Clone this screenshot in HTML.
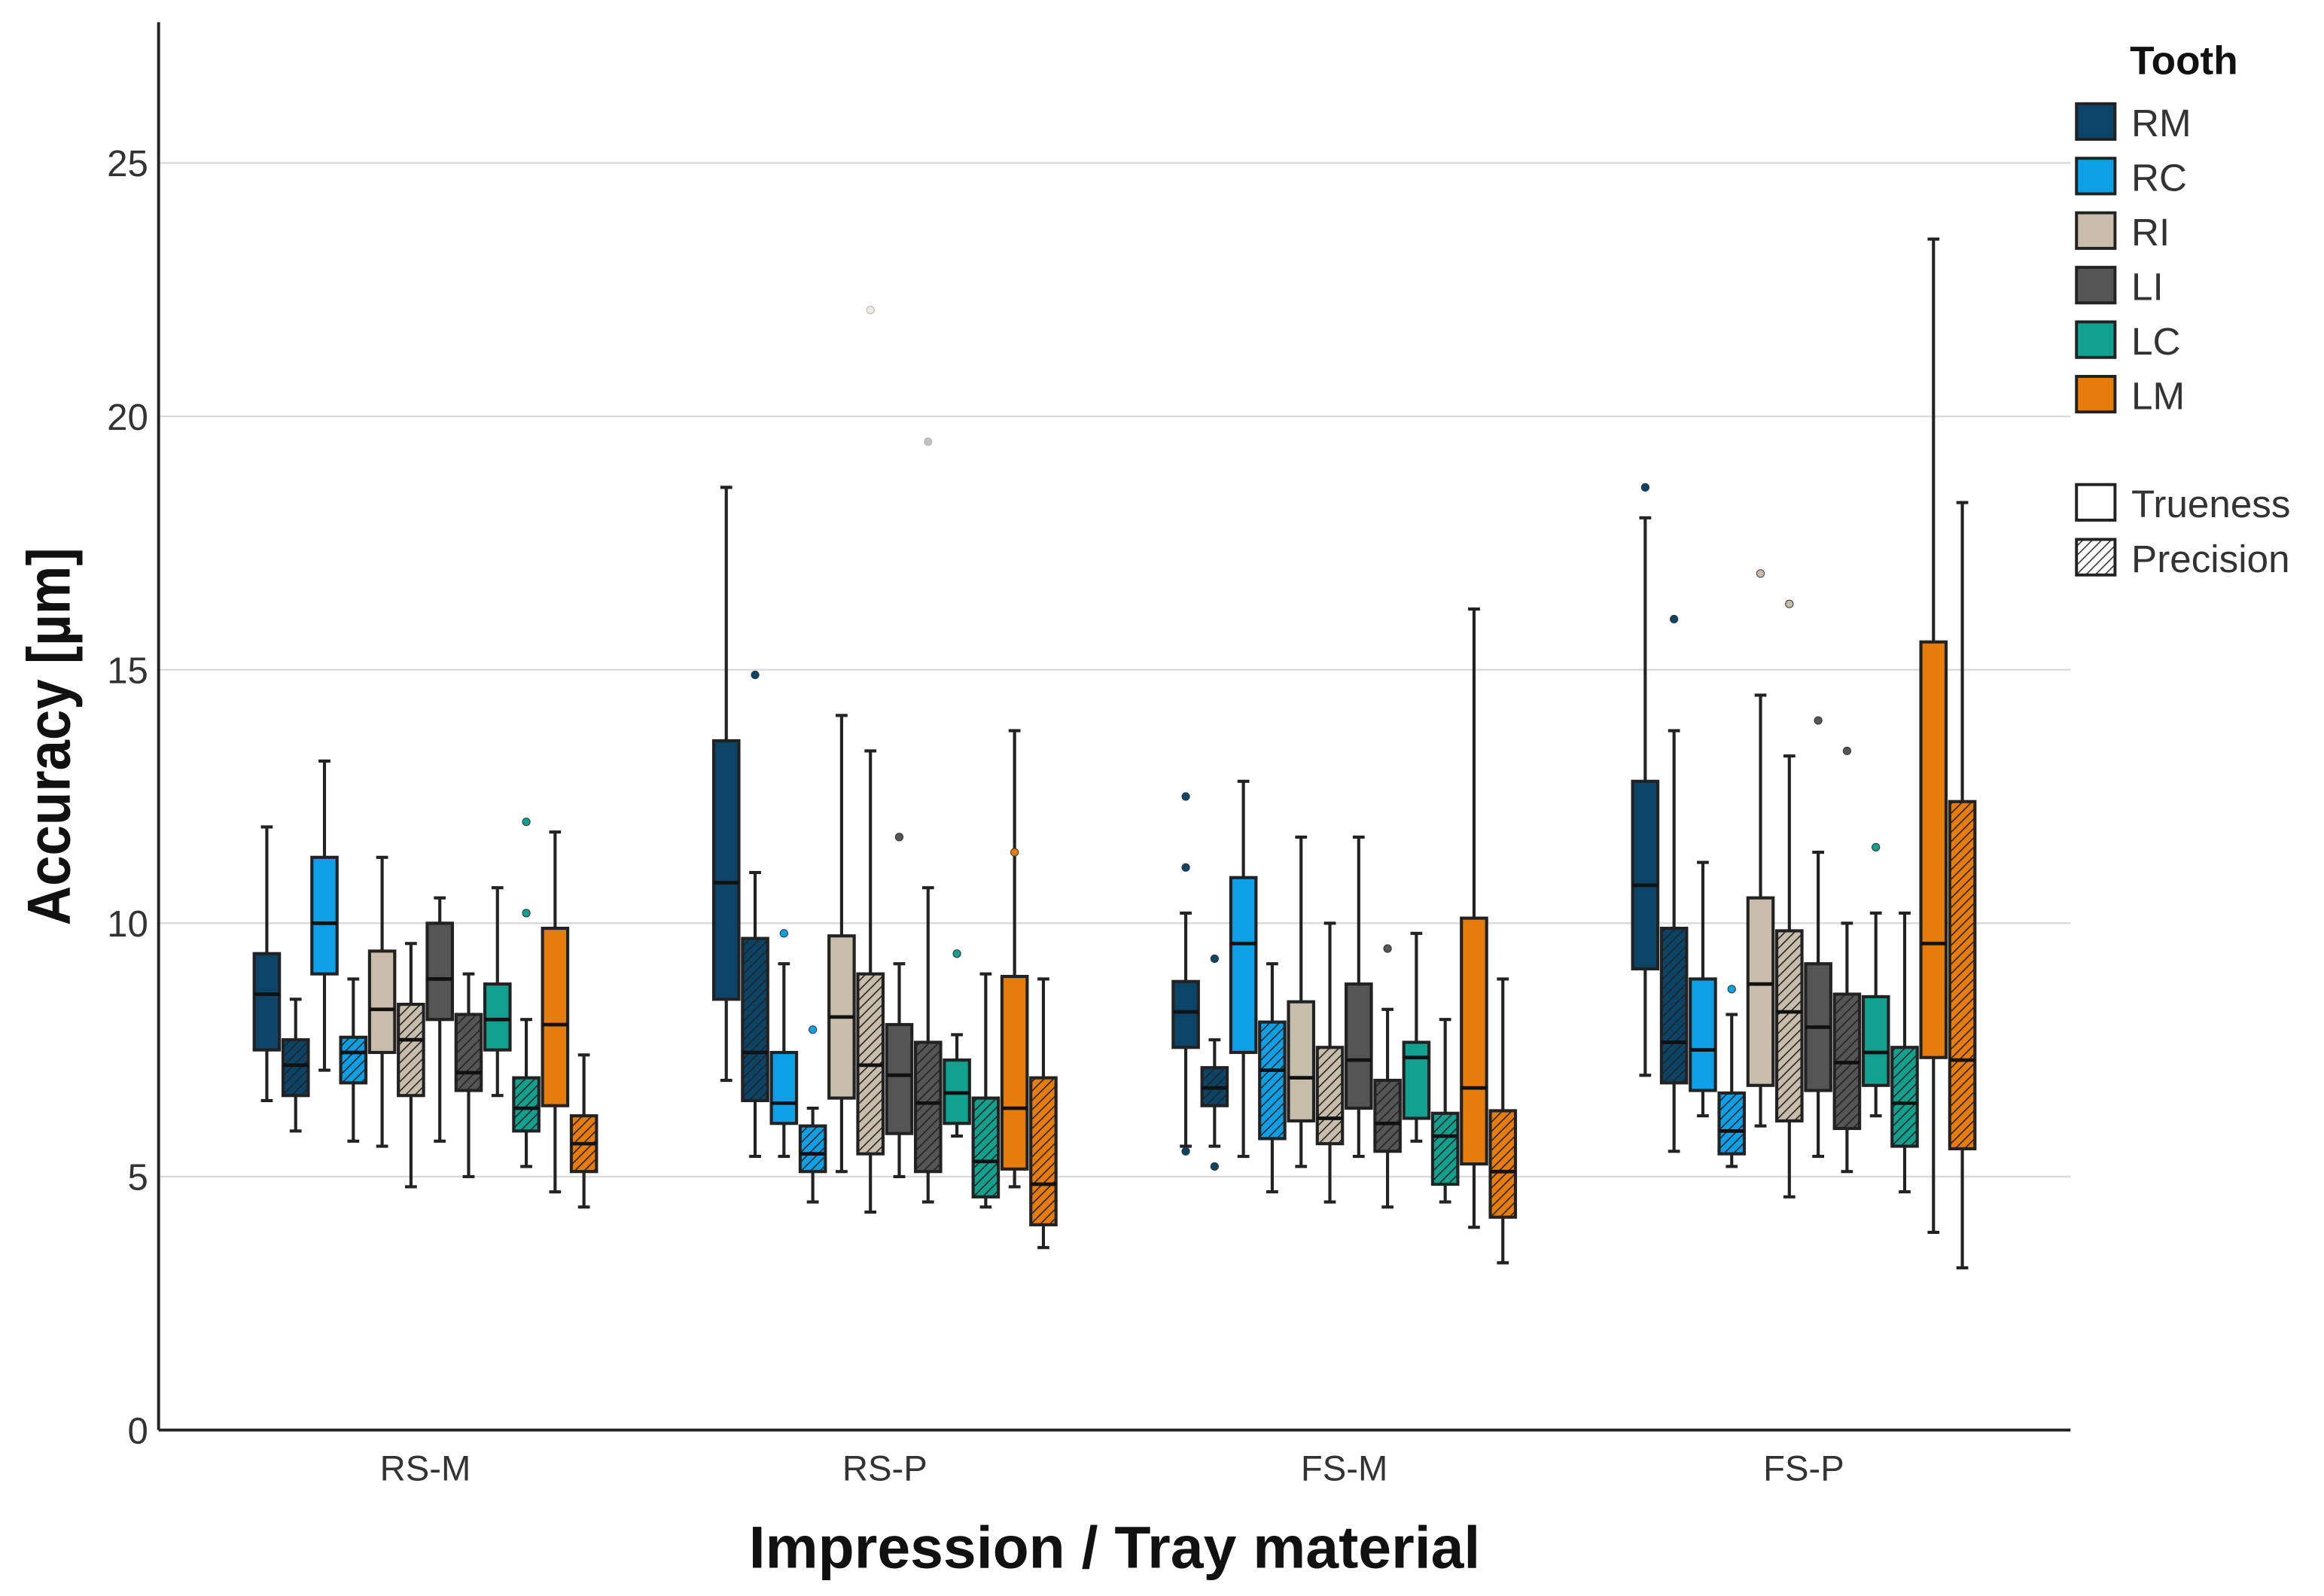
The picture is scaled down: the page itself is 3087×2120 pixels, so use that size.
<!DOCTYPE html>
<html><head><meta charset="utf-8"><style>
html,body{margin:0;padding:0;background:#fff;}
svg{display:block;font-family:"Liberation Sans",sans-serif;}
</style></head><body>
<svg id="chart" width="3087" height="2120" viewBox="0 0 1568 1077" preserveAspectRatio="none" xmlns="http://www.w3.org/2000/svg">
<defs id="defs"></defs>
<g id="grid"></g>
<g id="boxes"></g>
<g id="axes"></g>
<g id="legend"></g>
</svg>
<script>
const groups = ["RS-M","RS-P","FS-M","FS-P"];
const teeth = ["RM","RC","RI","LI","LC","LM"];
const toothColors = ["#0b4466","#0ea0e6","#c8bcaa","#555555","#12a08f","#e67c0b"];
const yTicks = [0,5,10,15,20,25];
// each entry: [whiskerLow, q1, median, q3, whiskerHigh], order per group: RM-T, RM-P, RC-T, RC-P, ... LM-P
const statsRSM = [[6.5,7.5,8.6,9.4,11.9],[5.9,6.6,7.2,7.7,8.5],[7.1,9.0,10.0,11.3,13.2],[5.7,6.85,7.45,7.75,8.9],[5.6,7.45,8.3,9.45,11.3],[4.8,6.6,7.7,8.4,9.6],[5.7,8.1,8.9,10.0,10.5],[5.0,6.7,7.05,8.2,9.0],[6.6,7.5,8.1,8.8,10.7],[5.2,5.9,6.35,6.95,8.1],[4.7,6.4,8.0,9.9,11.8],[4.4,5.1,5.65,6.2,7.4]];
const statsRSP = [[6.9,8.5,10.8,13.6,18.6],[5.4,6.5,7.45,9.7,11.0],[5.4,6.05,6.45,7.45,9.2],[4.5,5.1,5.45,6.0,6.35],[5.1,6.55,8.15,9.75,14.1],[4.3,5.45,7.2,9.0,13.4],[5.0,5.85,7.0,8.0,9.2],[4.5,5.1,6.45,7.65,10.7],[5.8,6.05,6.65,7.3,7.8],[4.4,4.6,5.3,6.55,9.0],[4.8,5.15,6.35,8.95,13.8],[3.6,4.05,4.85,6.95,8.9]];
const statsFSM = [[5.6,7.55,8.25,8.85,10.2],[5.6,6.4,6.75,7.15,7.7],[5.4,7.45,9.6,10.9,12.8],[4.7,5.75,7.1,8.05,9.2],[5.2,6.1,6.95,8.45,11.7],[4.5,5.65,6.15,7.55,10.0],[5.4,6.35,7.3,8.8,11.7],[4.4,5.5,6.05,6.9,8.3],[5.7,6.15,7.35,7.65,9.8],[4.5,4.85,5.8,6.25,8.1],[4.0,5.25,6.75,10.1,16.2],[3.3,4.2,5.1,6.3,8.9]];
const statsFSP = [[7.0,9.1,10.75,12.8,18.0],[5.5,6.85,7.65,9.9,13.8],[6.2,6.7,7.5,8.9,11.2],[5.2,5.45,5.9,6.65,8.2],[6.0,6.8,8.8,10.5,14.5],[4.6,6.1,8.25,9.85,13.3],[5.4,6.7,7.95,9.2,11.4],[5.1,5.95,7.25,8.6,10.0],[6.2,6.8,7.45,8.55,10.2],[4.7,5.6,6.45,7.55,10.2],[3.9,7.35,9.6,15.55,23.5],[3.2,5.55,7.3,12.4,18.3]];
const outRSM = [[],[],[],[],[],[],[],[],[],[10.2,12.0],[],[]];
const outRSP = [[],[14.9],[9.8],[7.9],[],[22.1],[11.7],[19.5],[9.4],[],[11.4],[]];
const outFSM = [[11.1,12.5,5.5],[9.3,5.2],[],[],[],[],[],[9.5],[],[],[],[]];
const outFSP = [[18.6],[16.0],[],[8.7],[16.9],[16.3],[14.0],[13.4],[11.5],[],[],[]];
const allStats = [statsRSM,statsRSP,statsFSM,statsFSP];
const allOut = [outRSM,outRSP,outFSM,outFSP];

const NS="http://www.w3.org/2000/svg";
const X0=107,X1=1397,Y0=965,Y25=110;
const SW=2.1;
const y = v => Y0 - v*(Y0-Y25)/25;
const groupX = g => 287 + g*310;
const boxX = (g,i) => groupX(g) + (i-5.5)*19.45;
function mk(tag,parent,attrs){const e=document.createElementNS(NS,tag);for(const k in attrs)e.setAttribute(k,attrs[k]);parent.appendChild(e);return e;}

const defs=document.getElementById('defs');
toothColors.forEach((c,t)=>{
  const p=mk('pattern',defs,{id:'hatch'+t,patternUnits:'userSpaceOnUse',width:4.5,height:4.5,patternTransform:'rotate(45)'});
  mk('rect',p,{x:0,y:0,width:4.5,height:4.5,fill:c});
  mk('line',p,{x1:0,y1:0,x2:0,y2:4.5,stroke:'#222',"stroke-width":1.6});
});
const pw=mk('pattern',defs,{id:'hatchW',patternUnits:'userSpaceOnUse',width:4.5,height:4.5,patternTransform:'rotate(45)'});
mk('rect',pw,{x:0,y:0,width:4.5,height:4.5,fill:'#fff'});
mk('line',pw,{x1:0,y1:0,x2:0,y2:4.5,stroke:'#333',"stroke-width":1.6});

const grid=document.getElementById('grid');
yTicks.forEach(v=>{
  if(v===0)return;
  const gl=mk('line',grid,{x1:X0,x2:X1,y1:y(v),y2:y(v),stroke:'#d9d9d9',"stroke-width":1.2});
  
  
});

const boxes=document.getElementById('boxes');
allStats.forEach((st,g)=>{
  st.forEach((s,i)=>{
    const t=Math.floor(i/2), prec=i%2===1, cx=boxX(g,i), w=17;
    const bg=mk('g',boxes,{});
    
    
    mk('line',bg,{x1:cx,x2:cx,y1:y(s[0]),y2:y(s[1]),stroke:'#222',"stroke-width":SW});
    mk('line',bg,{x1:cx,x2:cx,y1:y(s[3]),y2:y(s[4]),stroke:'#222',"stroke-width":SW});
    mk('line',bg,{x1:cx-4,x2:cx+4,y1:y(s[0]),y2:y(s[0]),stroke:'#222',"stroke-width":SW});
    mk('line',bg,{x1:cx-4,x2:cx+4,y1:y(s[4]),y2:y(s[4]),stroke:'#222',"stroke-width":SW});
    mk('rect',bg,{x:cx-w/2,y:y(s[3]),width:w,height:y(s[1])-y(s[3]),fill:prec?'url(#hatch'+t+')':toothColors[t],stroke:'#222',"stroke-width":SW});
    mk('line',bg,{x1:cx-w/2,x2:cx+w/2,y1:y(s[2]),y2:y(s[2]),stroke:'#111',"stroke-width":2.4});
    allOut[g][i].forEach(o=>{
      const faint = o>19;
      const d=mk('circle',bg,{cx:cx,cy:y(o),r:2.6,fill:toothColors[t],stroke:'#333',"stroke-width":0.5,opacity:faint?0.35:1});
      
      
    });
  });
});

const axes=document.getElementById('axes');
mk('line',axes,{x1:X0,x2:X0,y1:15,y2:Y0,stroke:'#222',"stroke-width":2});
mk('line',axes,{x1:X0,x2:X1,y1:Y0,y2:Y0,stroke:'#222',"stroke-width":2});
yTicks.forEach(v=>{
  const tx=mk('text',axes,{x:100,y:y(v)+9,"text-anchor":"end","font-size":25,fill:'#333'});
  tx.textContent=v;
  
  
});
groups.forEach((gname,g)=>{
  const tx=mk('text',axes,{x:groupX(g),y:999,"text-anchor":"middle","font-size":24,fill:'#333'});
  tx.textContent=gname;
  
  
});
const yt=mk('text',axes,{x:0,y:0,"text-anchor":"middle","font-size":41,"font-weight":"bold",fill:'#111',transform:'translate(47,497) rotate(-90) scale(0.9,1)'});
yt.textContent='Accuracy [µm]';


const xt=mk('text',axes,{x:752,y:1058,"text-anchor":"middle","font-size":40,"font-weight":"bold",fill:'#111'});
xt.textContent='Impression / Tray material';



const lg=document.getElementById('legend');
const lt=mk('text',lg,{x:1437,y:50,"font-size":27,"font-weight":"bold",fill:'#111'});
lt.textContent='Tooth';


teeth.forEach((tn,t)=>{
  const cy=82+t*36.8;
  const e=mk('g',lg,{});
  
  
  mk('rect',e,{x:1401,y:cy-12,width:26,height:24,fill:toothColors[t],stroke:'#222',"stroke-width":2});
  const tx=mk('text',e,{x:1438,y:cy+10,"font-size":26,fill:'#333'});
  tx.textContent=tn;
});
[['Trueness','#fff',339],['Precision','url(#hatchW)',376]].forEach(([n,f,cy])=>{
  const e=mk('g',lg,{});
  
  
  mk('rect',e,{x:1401,y:cy-12,width:26,height:24,fill:f,stroke:'#222',"stroke-width":2});
  const tx=mk('text',e,{x:1438,y:cy+10,"font-size":26,fill:'#333'});
  tx.textContent=n;
});
</script>
</body></html>
